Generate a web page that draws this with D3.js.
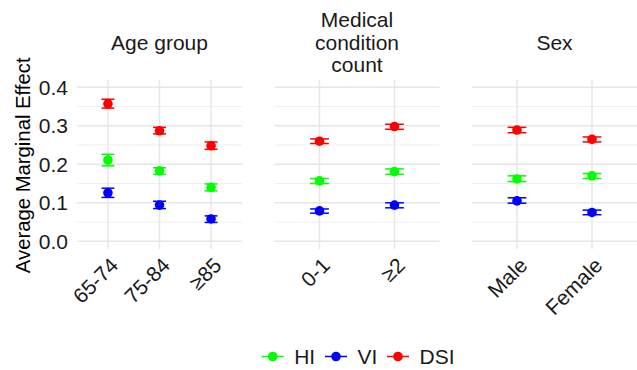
<!DOCTYPE html>
<html>
<head>
<meta charset="utf-8">
<script src="https://cdn.jsdelivr.net/npm/d3@7"></script>
<style>
  body { margin: 0; background: #fff; }
  text { font-family: "Liberation Sans", Arial, Helvetica, sans-serif; }
</style>
</head>
<body>
<div id="chart"></div>
<script>
// facet titles (split into lines) and their categories
var groups = [["Age group"], ["Medical", "condition", "count"], ["Sex"]];
var categories = [["65-74", "75-84", "≥85"], ["0-1", "≥2"], ["Male", "Female"]];

var seriesNames = ["HI", "VI", "DSI"];
var seriesColors = ["#00ff00", "#0000ff", "#ff0000"];

// estimates in category order: 65-74, 75-84, >=85, 0-1, >=2, Male, Female
var hiEst = [0.211, 0.183, 0.140, 0.157, 0.181, 0.162, 0.170];
var hiLow = [0.196, 0.174, 0.131, 0.150, 0.174, 0.155, 0.163];
var hiHigh = [0.226, 0.191, 0.149, 0.163, 0.188, 0.170, 0.176];

var viEst = [0.126, 0.094, 0.058, 0.079, 0.094, 0.105, 0.075];
var viLow = [0.114, 0.085, 0.049, 0.073, 0.087, 0.099, 0.069];
var viHigh = [0.138, 0.104, 0.066, 0.084, 0.100, 0.113, 0.081];

var dsiEst = [0.357, 0.287, 0.248, 0.260, 0.298, 0.289, 0.265];
var dsiLow = [0.346, 0.279, 0.239, 0.254, 0.291, 0.282, 0.258];
var dsiHigh = [0.369, 0.296, 0.258, 0.266, 0.304, 0.296, 0.271];

var yTicks = [0, 0.1, 0.2, 0.3, 0.4];
var yMinor = [0.05, 0.15, 0.25, 0.35];

var width = 637, height = 370;
var svg = d3.select("#chart").append("svg")
    .attr("width", width)
    .attr("height", height);

var panelLeft = 77, panelWidth = 165, panelGap = 32.5;
var y = d3.scaleLinear()
    .domain([-0.02, 0.42])
    .range([249, 79.6]);

var est = [hiEst, viEst, dsiEst],
    low = [hiLow, viLow, dsiLow],
    high = [hiHigh, viHigh, dsiHigh];

var offset = 0;
categories.forEach(function(cats, p) {
    var x0 = panelLeft + p * (panelWidth + panelGap);
    var x = d3.scalePoint()
        .domain(cats)
        .range([x0, x0 + panelWidth])
        .padding(0.6);
    var g = svg.append("g");

    // grid
    g.selectAll(".minor").data(yMinor).enter().append("line")
        .attr("x1", x0).attr("x2", x0 + panelWidth)
        .attr("y1", y).attr("y2", y)
        .attr("stroke", "#ebebeb").attr("stroke-width", 0.8);
    g.selectAll(".major").data(yTicks).enter().append("line")
        .attr("x1", x0).attr("x2", x0 + panelWidth)
        .attr("y1", y).attr("y2", y)
        .attr("stroke", "#e6e6e6").attr("stroke-width", 1.4);
    g.selectAll(".vgrid").data(cats).enter().append("line")
        .attr("x1", x).attr("x2", x)
        .attr("y1", y.range()[1]).attr("y2", y.range()[0])
        .attr("stroke", "#e6e6e6").attr("stroke-width", 1.4);

    // strip title, centred vertically
    var lines = groups[p];
    var cx = x0 + panelWidth / 2;
    g.append("text")
        .attr("text-anchor", "middle")
        .attr("font-size", 21)
        .attr("fill", "#1a1a1a")
        .selectAll("tspan").data(lines).enter().append("tspan")
        .attr("x", cx)
        .attr("y", function(d, i) { return 49.5 + (i - (lines.length - 1) / 2) * 22.5; })
        .text(function(d) { return d; });

    // x tick labels rotated 45
    g.selectAll(".xlab").data(cats).enter().append("text")
        .attr("transform", function(d) { return "translate(" + (x(d) + 1) + ",256) rotate(-45)"; })
        .attr("text-anchor", "end")
        .attr("dy", "0.72em")
        .attr("font-size", 21)
        .attr("fill", "#1a1a1a")
        .text(function(d) { return d; });

    // error bars and points
    var halfCap = x.step() * 0.125;
    est.forEach(function(vals, s) {
        var rows = cats.map(function(c, i) {
            return {cat: c, v: vals[offset + i], lo: low[s][offset + i], hi: high[s][offset + i]};
        });
        var col = seriesColors[s];
        var eb = g.append("g").attr("stroke", col).attr("stroke-width", 1.5);
        eb.selectAll(".v").data(rows).enter().append("line")
            .attr("x1", function(d) { return x(d.cat); }).attr("x2", function(d) { return x(d.cat); })
            .attr("y1", function(d) { return y(d.lo); }).attr("y2", function(d) { return y(d.hi); });
        eb.selectAll(".t").data(rows).enter().append("line")
            .attr("x1", function(d) { return x(d.cat) - halfCap; }).attr("x2", function(d) { return x(d.cat) + halfCap; })
            .attr("y1", function(d) { return y(d.hi); }).attr("y2", function(d) { return y(d.hi); });
        eb.selectAll(".b").data(rows).enter().append("line")
            .attr("x1", function(d) { return x(d.cat) - halfCap; }).attr("x2", function(d) { return x(d.cat) + halfCap; })
            .attr("y1", function(d) { return y(d.lo); }).attr("y2", function(d) { return y(d.lo); });
        g.selectAll(".pt" + s).data(rows).enter().append("circle")
            .attr("cx", function(d) { return x(d.cat); })
            .attr("cy", function(d) { return y(d.v); })
            .attr("r", 4.8)
            .attr("fill", col);
    });
    offset += cats.length;
});

// y axis labels (first panel only)
svg.selectAll(".ylab").data(yTicks).enter().append("text")
    .attr("x", 68)
    .attr("y", y)
    .attr("dy", "0.36em")
    .attr("text-anchor", "end")
    .attr("font-size", 21)
    .attr("fill", "#1a1a1a")
    .text(function(d) { return d3.format(".1f")(d); });

svg.append("text")
    .attr("transform", "translate(30," + ((y.range()[0] + y.range()[1]) / 2 + 1) + ") rotate(-90)")
    .attr("text-anchor", "middle")
    .attr("font-size", 20.3)
    .attr("fill", "#000")
    .text("Average Marginal Effect");

// legend
var legendX = [272.7, 336, 398];
var legend = svg.selectAll(".leg").data(seriesNames).enter().append("g")
    .attr("transform", function(d, i) { return "translate(" + legendX[i] + ",356.5)"; });
legend.append("line")
    .attr("x1", -11).attr("x2", 11)
    .attr("stroke", function(d, i) { return seriesColors[i]; })
    .attr("stroke-width", 1.5);
legend.append("circle")
    .attr("r", 4.8)
    .attr("fill", function(d, i) { return seriesColors[i]; });
legend.append("text")
    .attr("x", 21.5)
    .attr("dy", "0.36em")
    .attr("font-size", 21)
    .attr("fill", "#1a1a1a")
    .text(function(d) { return d; });
</script>
</body>
</html>
